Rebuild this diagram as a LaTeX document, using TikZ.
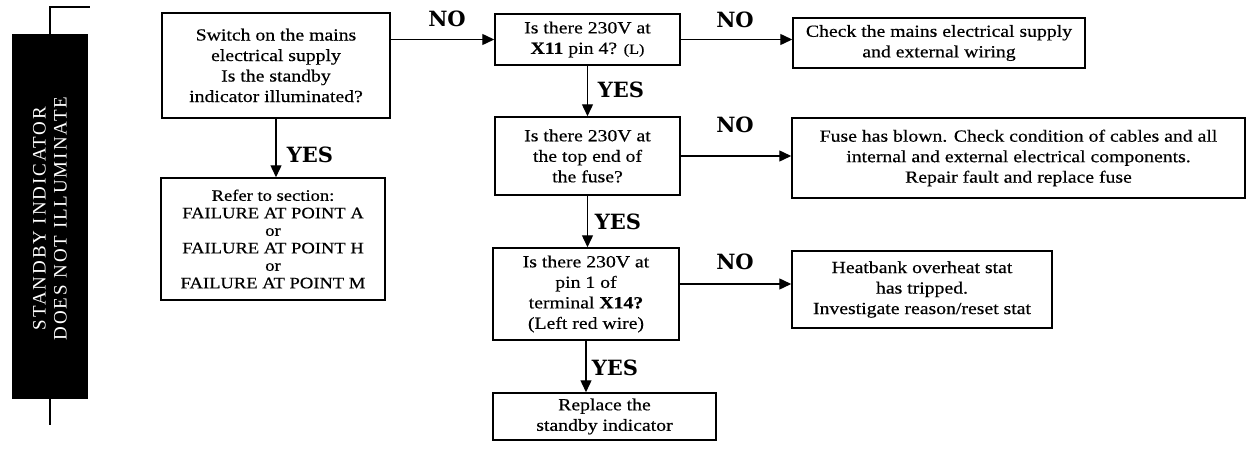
\documentclass[tikz,border=0pt]{standalone}
\usepackage{fontspec}
\setmainfont{Liberation Serif}[FakeStretch=1.16,FakeBold=0.5]
\newfontfamily\labfont{DejaVu Serif}
\newfontfamily\barfont[LetterSpace=10]{Liberation Serif}
\usetikzlibrary{arrows.meta}
\begin{document}
\begin{tikzpicture}[x=1pt,y=-1pt,
  line width=1.4pt,
  box/.style={draw,line width=1.5pt,inner sep=0pt,align=center,font=\fontsize{17}{20.5}\selectfont},
  arr/.style={-{Triangle[length=12pt,width=11pt]}},
  lab/.style={font=\labfont\bfseries\fontsize{21}{24}\selectfont,inner sep=0pt}]
\useasboundingbox (0,0) rectangle (1250,450);
% left bar
\node[fill=black,draw=black,minimum width=74pt,minimum height=363pt,inner sep=0pt] (bar) at (50,216.5) {};
\node[rotate=90,text=white,align=center,font=\barfont\fontsize{19}{21}\selectfont] (bartxt) at ([yshift=-2pt]bar.center) {STANDBY INDICATOR\\DOES NOT ILLUMINATE};
\coordinate (t2) at (90,7);
\coordinate (b1) at (50,425);
\draw (bar.north) |- (t2);
\draw (bar.south) -- (b1);
% boxes
\node[box,minimum width=228pt,minimum height=105pt] (box1) at (276,65.5) {Switch on the mains\\electrical supply\\Is the standby\\indicator illuminated?};
\node[box,minimum width=224pt,minimum height=122pt,font=\fontsize{16}{17.5}\selectfont] (refer) at (273,239) {Refer to section:\\FAILURE AT POINT A\\or\\FAILURE AT POINT H\\or\\FAILURE AT POINT M};
\node[box,minimum width=185pt,minimum height=51pt] (box2) at (587.5,39.5) {Is there 230V at\\\textbf{X11} pin 4? {\fontsize{14}{16}\selectfont(L)}};
\node[box,minimum width=292pt,minimum height=50pt] (box3) at (939,43) {Check the mains electrical supply\\and external wiring};
\node[box,minimum width=185pt,minimum height=78pt] (box4) at (587.5,156) {Is there 230V at\\the top end of\\the fuse?};
\node[box,minimum width=453pt,minimum height=80pt] (box5) at (1018.5,158) {Fuse has blown. Check condition of cables and all\\internal and external electrical components.\\Repair fault and replace fuse};
\node[box,minimum width=186pt,minimum height=92pt] (box6) at (586,294) {Is there 230V at\\pin 1 of\\terminal \textbf{X14?}\\(Left red wire)};
\node[box,minimum width=260pt,minimum height=77pt] (box7) at (922,289.5) {Heatbank overheat stat\\has tripped.\\Investigate reason/reset stat};
\node[box,minimum width=223pt,minimum height=47pt] (box8) at (604.5,416.5) {Replace the\\standby indicator};
% connectors
\draw[arr] (box1.east |- box2.west) -- (box2.west);
\draw[arr] (box2.east) -- (box2.east -| box3.west);
\draw[arr] (box2.south) -- (box4.north);
\draw[arr] (box4.east) -- (box4.east -| box5.west);
\draw[arr] (box4.south) -- (box4.south |- box6.north);
\coordinate (n6) at ([yshift=10pt]box6.east);
\draw[arr] (n6) -- (n6 -| box7.west);
\draw[arr] (box6.south) -- (box6.south |- box8.north);
\draw[arr] (box1.south) -- (box1.south |- refer.north);
% labels
\node[lab] (no1) at (447,19) {NO};
\node[lab] (no2) at (735,20) {NO};
\node[lab] (no3) at (735,125) {NO};
\node[lab] (no4) at (735,262) {NO};
\node[lab] (yes1) at (310,155) {YES};
\node[lab] (yes2) at (621,90) {YES};
\node[lab] (yes3) at (618,222) {YES};
\node[lab] (yes4) at (615,368) {YES};
\end{tikzpicture}
\end{document}
